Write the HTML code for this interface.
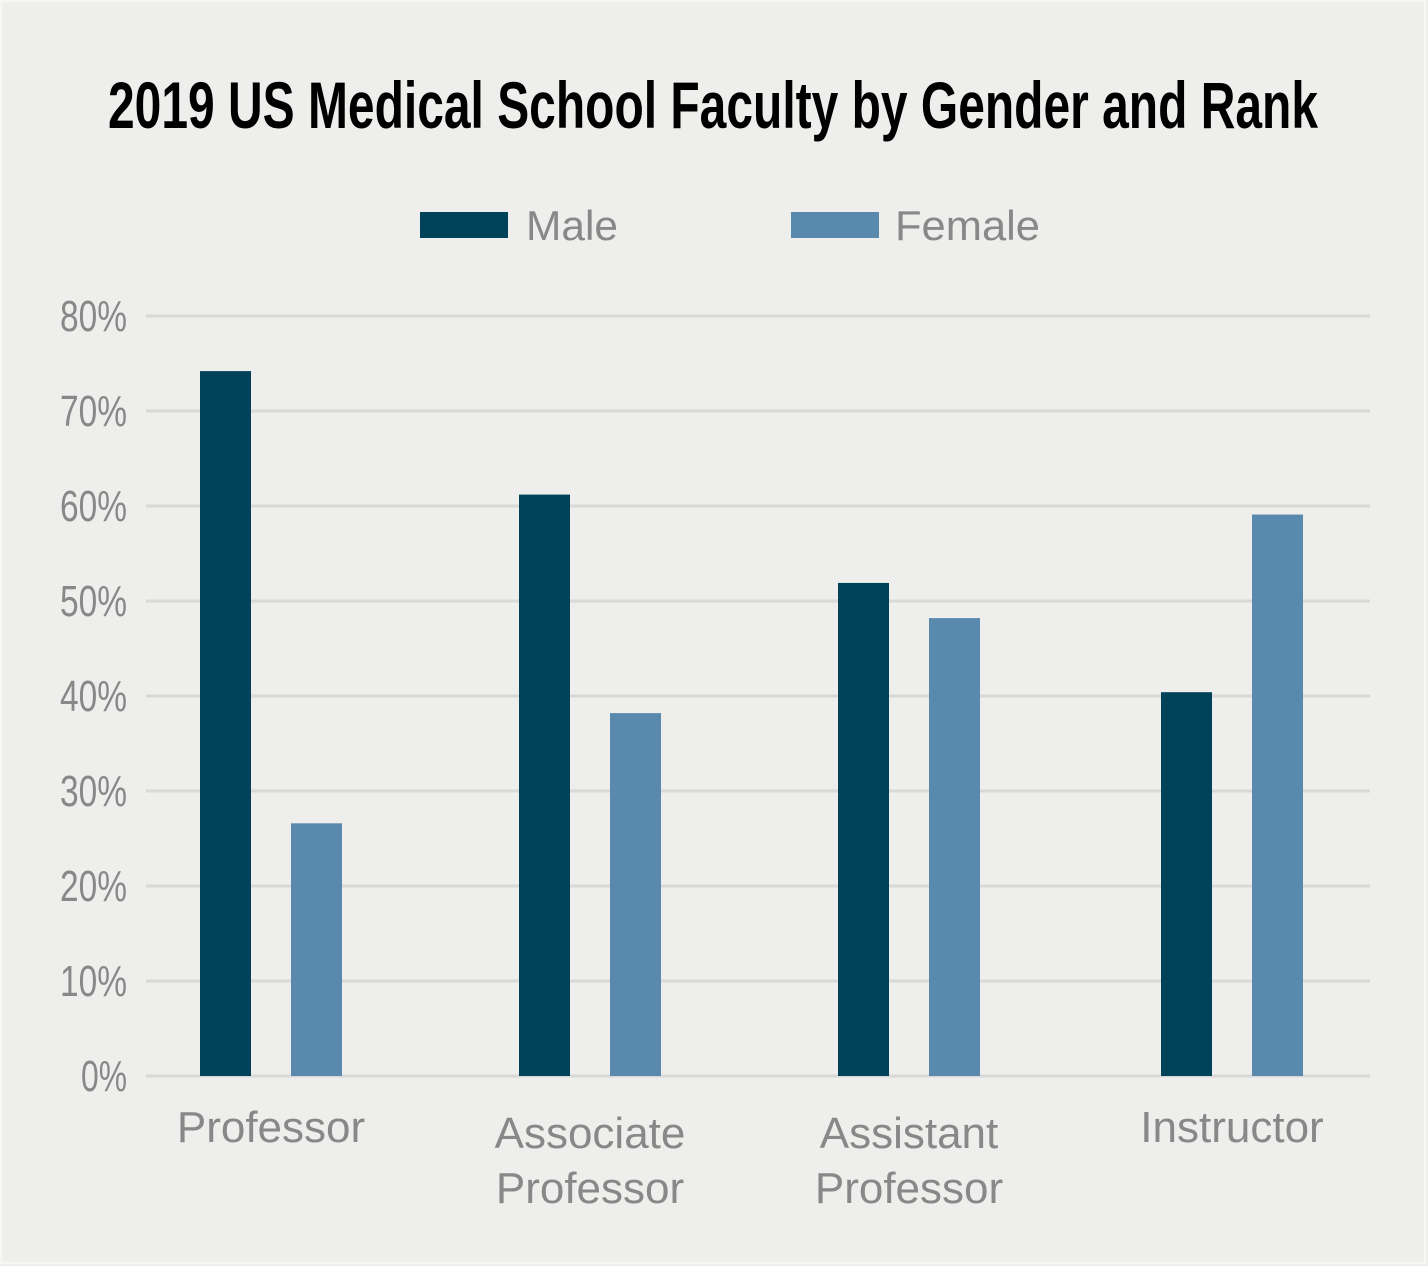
<!DOCTYPE html>
<html><head><meta charset="utf-8"><style>
html,body{margin:0;padding:0;background:#eeeeec;}
svg{display:block;}
text{font-family:"Liberation Sans Narrow","Liberation Sans",sans-serif;}
</style></head><body>
<svg id="chart" width="1428" height="1266" viewBox="0 0 1428 1266" xmlns="http://www.w3.org/2000/svg">
<rect x="0" y="0" width="1428" height="1266" fill="#eeeeec"/>
<rect x="1" y="1" width="1424" height="1262" fill="none" stroke="#f6f6f5" stroke-width="2"/>
<text x="713" y="128" text-anchor="middle" font-size="66" font-weight="bold" fill="#000" textLength="1210" lengthAdjust="spacingAndGlyphs">2019 US Medical School Faculty by Gender and Rank</text>
<g>
<rect x="420" y="212" width="88" height="26" fill="#00425a"/>
<text x="526" y="240" font-size="42" fill="#888" textLength="92" lengthAdjust="spacingAndGlyphs">Male</text>
<rect x="791" y="212" width="88" height="26" fill="#5a89ae"/>
<text x="895" y="240" font-size="42" fill="#888" textLength="145" lengthAdjust="spacingAndGlyphs">Female</text>
</g>
<g id="grid"></g><g id="bars"></g><g id="labels"></g>
</svg>
<script>
const categories = [["Professor"],["Associate","Professor"],["Assistant","Professor"],["Instructor"]];
const maleValues = [74.2, 61.2, 51.9, 40.4];
const femaleValues = [26.6, 38.2, 48.2, 59.1];
const tickValues = [0,10,20,30,40,50,60,70,80];
const tickLabels = ["0%","10%","20%","30%","40%","50%","60%","70%","80%"];
const NS="http://www.w3.org/2000/svg";
const y0=1076, yTop=316, vMax=80;
const y=v=>y0-(y0-yTop)*v/vMax;
const centers=[271,590,909,1232];
const x=i=>centers[i];
function mk(t,a,p){const e=document.createElementNS(NS,t);for(const k in a)e.setAttribute(k,a[k]);p.appendChild(e);return e;}
const grid=document.getElementById('grid'),bars=document.getElementById('bars'),labels=document.getElementById('labels');
tickValues.forEach((v,i)=>{
 const l=mk('line',{x1:146,x2:1370,y1:y(v),y2:y(v),stroke:'#d8d8d6','stroke-width':3},grid);
 
 
 const len=tickLabels[i].length===3?67:46;
 const t=mk('text',{x:127,y:y(v)+15,'text-anchor':'end','font-size':44,fill:'#888',textLength:len,lengthAdjust:'spacingAndGlyphs'},grid);
 t.textContent=tickLabels[i];
 
 
});
const bw=51;
categories.forEach((c,i)=>{
 const m=mk('rect',{x:x(i)-71,y:y(maleValues[i]),width:bw,height:y0-y(maleValues[i]),fill:'#00425a'},bars);
 
 
 const f=mk('rect',{x:x(i)+20,y:y(femaleValues[i]),width:bw,height:y0-y(femaleValues[i]),fill:'#5a89ae'},bars);
 
 
 c.forEach((line,j)=>{
  const base=c.length===1?1142:1148+j*55;
  const t=mk('text',{x:x(i),y:base,'text-anchor':'middle','font-size':44,fill:'#888'},labels);
  t.textContent=line;
  
  
 });
});
</script>
</body></html>
